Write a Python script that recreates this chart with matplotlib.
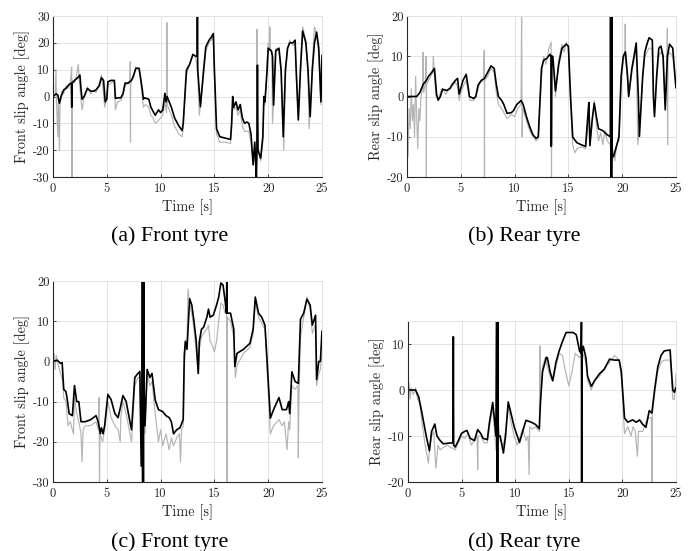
import matplotlib

matplotlib.use("Agg")
import matplotlib.pyplot as plt
from matplotlib.ticker import FuncFormatter, MultipleLocator

a_gray = [(0, 0), (0.2, 1), (0.28, 10), (0.32, -2), (0.45, -15), (0.5, 0), (0.6, -20), (0.65, -3), (0.8, 2), (1.0, 1), (1.2, 4), (1.4, 3), (1.6, 5), (1.74, 11), (1.76, -30), (1.8, 6), (2.0, 5), (2.2, 8), (2.35, 12), (2.45, 6), (2.6, -1), (2.7, -5), (2.9, 0), (3.2, 3.5), (3.5, 1), (3.8, 2.5), (4.0, 1.5), (4.3, 5), (4.5, 8), (4.6, 5), (4.8, -4), (5.0, -0.5), (5.1, 4), (5.4, 5), (5.7, 6), (5.8, -5), (6.0, -2), (6.3, -1.5), (6.5, 0), (6.7, 4), (7.0, 5), (7.15, 6), (7.18, 13), (7.2, -17), (7.22, 6), (7.5, 7), (7.7, 11), (8.0, 10), (8.1, 7), (8.3, 0), (8.4, -4), (8.6, -3), (8.9, -4), (9.1, -7), (9.3, -8), (9.5, -10), (9.8, -9), (10.0, -8), (10.2, -7), (10.4, -2), (10.55, -6), (10.58, 27.5), (10.62, -3), (10.8, -5), (11.0, -7), (11.3, -11), (11.7, -14), (12.0, -15), (12.1, -12), (12.4, 8), (12.7, 12), (13.0, 16), (13.3, 14), (13.45, 8), (13.6, -7), (13.7, -3), (14.0, 8), (14.2, 17), (14.5, 20), (14.7, 21), (14.9, 22), (15.0, 8), (15.2, -14), (15.5, -17), (16.0, -17), (16.5, -17.5), (16.6, -12), (16.7, -2), (16.8, -5), (17.0, -4), (17.2, -7), (17.4, -5), (17.6, -11), (17.8, -13), (18.0, -13), (18.2, -13), (18.4, -17), (18.6, -24), (18.75, -19), (18.9, -30), (18.95, 25), (19.0, -10), (19.1, -20), (19.3, -24), (19.5, -17), (19.6, -2), (19.7, -3), (19.9, 12), (20.0, 20), (20.1, 17), (20.15, 26), (20.2, 18), (20.35, 15), (20.4, -10), (20.5, -3), (20.7, 18), (21.0, 17), (21.2, 9), (21.45, -20), (21.6, 8), (21.8, 18), (22.0, 21), (22.3, 19), (22.5, 20), (22.6, 9), (22.8, -9), (23.0, 12), (23.2, 26), (23.5, 21), (23.7, 8), (23.8, -12), (23.9, -6), (24.1, 12), (24.3, 26), (24.5, 23), (24.7, 16), (24.9, -3), (25.0, 13)]
a_black = [(0, 0), (0.3, 1), (0.45, 0.5), (0.6, -2.5), (0.75, 0), (1.0, 2.5), (1.2, 3), (1.5, 4.5), (1.7, 5), (1.74, -4), (1.78, 5), (2.0, 6), (2.3, 7), (2.5, 8), (2.6, 3), (2.7, -1), (2.9, 0), (3.2, 3), (3.5, 2), (3.8, 2), (4.0, 2.5), (4.3, 4), (4.5, 7), (4.7, 6), (4.85, -2), (5.0, -1), (5.1, 5.5), (5.4, 6), (5.7, 6), (5.8, -0.7), (6.0, -0.5), (6.3, -0.5), (6.5, 1), (6.7, 5), (7.0, 5), (7.3, 6), (7.5, 8), (7.7, 10.5), (8.0, 10.5), (8.1, 8), (8.3, 2.5), (8.4, -1), (8.5, -0.5), (8.9, -1), (9.1, -4), (9.5, -7), (9.8, -5), (10.0, -6), (10.2, -5), (10.4, 1.2), (10.5, -2), (10.6, 0), (10.8, -2), (11.0, -4), (11.3, -8), (11.7, -11), (12.0, -12.7), (12.1, -10), (12.4, 9.8), (12.7, 12), (13.0, 15.6), (13.3, 15), (13.4, 15), (13.42, 30), (13.45, 10), (13.7, -3.8), (14.0, 10), (14.2, 18.5), (14.5, 21), (14.7, 22), (14.9, 23.5), (15.0, 10), (15.2, -12), (15.5, -15), (16.0, -15.5), (16.5, -16), (16.6, -10), (16.7, 0), (16.8, -4), (17.0, -2), (17.2, -5), (17.4, -3), (17.6, -8), (17.8, -10), (18.0, -9.5), (18.2, -10), (18.4, -14), (18.6, -25.5), (18.75, -17), (18.9, -30), (18.95, -22), (19.0, 11.7), (19.05, -20), (19.3, -23), (19.5, -15), (19.6, 0), (19.7, -2), (19.9, 10), (20.0, 18), (20.3, 17), (20.4, 15), (20.5, -3.2), (20.7, 17), (21.0, 18), (21.2, 10), (21.4, -15), (21.6, 10), (21.8, 18), (22.0, 20), (22.3, 20), (22.5, 21), (22.6, 10), (22.8, -8.7), (23.0, 10), (23.2, 24.4), (23.5, 20), (23.7, 10), (23.9, -7.5), (24.1, 10), (24.3, 20), (24.5, 24), (24.7, 18), (24.9, -2), (25.0, 15.3)]

b_gray = [(0, 0), (0.1, -15), (0.2, -3), (0.3, -8), (0.4, 2), (0.5, -6), (0.6, -2), (0.7, -10), (0.8, 5), (0.9, -5), (1.0, -13), (1.1, -3), (1.2, -6), (1.3, 0), (1.45, 2), (1.5, 11), (1.55, 1), (1.7, 3), (1.78, 10), (1.8, -20), (1.82, 3), (2.0, 4), (2.2, 5), (2.4, 6), (2.45, 10), (2.5, 7), (2.7, 0), (2.9, -1), (3.1, 1), (3.3, 2), (3.6, 0.5), (3.9, 2), (4.2, 2.5), (4.5, 3.5), (4.7, 2.5), (4.85, -1), (5.0, 1), (5.3, 3), (5.5, 4), (5.7, 1), (5.85, -1), (6.2, -1), (6.5, 1), (6.8, 3.5), (7.1, 4), (7.18, 11.5), (7.2, -20), (7.22, 4), (7.5, 5), (7.8, 7), (8.1, 6), (8.3, 1), (8.5, -2), (8.8, -3), (9.0, -4), (9.3, -5.5), (9.7, -4.5), (10.0, -5), (10.3, -3), (10.6, -2), (10.65, 20), (10.7, -10), (10.75, -3), (11.1, -6), (11.4, -8.5), (11.7, -10), (12.0, -11), (12.2, -10.5), (12.5, 5), (12.7, 10), (12.9, 8), (13.2, 12), (13.4, 13.5), (13.43, -20), (13.46, 9), (13.6, 8), (13.8, 0), (14.1, 9), (14.4, 13), (14.6, 11), (14.8, 13.5), (15.0, 12), (15.2, -2), (15.4, -12), (15.6, -14), (15.8, -13), (16.2, -12.5), (16.6, -13), (16.8, -8), (16.9, -2), (17.0, -12), (17.2, -7), (17.4, -1), (17.6, -7), (17.8, -11), (18.0, -9), (18.2, -12), (18.4, -8.5), (18.6, -11), (18.9, -12), (19.0, -19), (19.1, -13), (19.3, -16), (19.5, -12), (19.7, -11), (19.9, 3), (20.1, 9), (20.25, 10), (20.28, 18), (20.32, 9), (20.5, 4), (20.6, 0), (20.9, 6), (21.1, 9), (21.3, 12), (21.45, -12), (21.6, -8), (21.9, 4), (22.1, 10), (22.3, 11), (22.5, 12), (22.8, 12), (22.9, 0), (23.0, -4), (23.2, 4), (23.4, 10), (23.6, 11), (23.8, 10), (24.0, -2), (24.15, 9), (24.2, 17), (24.22, -12), (24.25, 10), (24.4, 11), (24.7, 10), (24.9, 6), (25.0, 3)]
b_black = [(0, 0), (0.9, 0), (1.2, 1), (1.5, 3), (1.8, 4), (2.0, 5), (2.3, 6), (2.55, 7), (2.75, 0.5), (2.9, -0.9), (3.1, 0), (3.3, 1.8), (3.7, 1.5), (4.0, 2), (4.2, 3), (4.5, 4), (4.7, 4.5), (4.85, 0.6), (5.0, 2), (5.2, 4), (5.5, 5.5), (5.7, 2), (5.8, 0), (6.2, -0.5), (6.4, 0), (6.6, 2.8), (6.9, 4), (7.2, 4.5), (7.5, 6), (7.8, 7.6), (8.1, 7), (8.3, 3), (8.5, 0), (8.8, -1), (9.0, -2), (9.3, -4.2), (9.7, -4), (9.9, -3.5), (10.2, -2), (10.6, -1), (10.8, -2), (11.1, -5), (11.4, -7.5), (11.7, -9.5), (12.0, -10.4), (12.2, -10), (12.5, 7), (12.7, 9), (13.0, 9.5), (13.3, 10.5), (13.38, 10), (13.4, -12.4), (13.43, -12), (13.46, 10), (13.55, 10), (13.8, 1.4), (14.1, 8), (14.4, 12), (14.8, 13), (15.0, 12.5), (15.2, 0), (15.4, -10.1), (15.8, -11.5), (16.2, -12), (16.6, -12.4), (16.8, -5), (16.9, -1.5), (17.0, -12.2), (17.2, -6), (17.4, -1.7), (17.6, -5), (17.8, -8), (18.2, -8.5), (18.6, -9.5), (18.9, -10), (18.92, 20), (18.95, -20), (18.98, 20), (19.01, -20), (19.04, 20), (19.07, -15), (19.2, -14.9), (19.5, -12), (19.7, -10), (19.9, 5), (20.1, 10), (20.3, 11.1), (20.5, 5), (20.6, 0), (20.9, 7), (21.1, 10), (21.3, 13.3), (21.5, 0), (21.6, -9.9), (21.9, 5), (22.1, 11), (22.3, 13), (22.5, 14.6), (22.8, 14), (22.9, 0), (23.0, -5), (23.2, 5), (23.4, 12), (23.6, 12.5), (23.8, 10), (24.0, -3.3), (24.2, 10), (24.4, 13), (24.7, 12), (24.9, 5), (25.0, 2.2)]

c_gray = [(0, -3), (0.1, 2), (0.2, -2), (0.3, 1.5), (0.5, -1), (0.7, -3), (0.9, -5), (1.0, -9), (1.2, -10), (1.4, -16), (1.6, -15), (1.8, -17), (1.9, -18), (2.0, -9), (2.2, -13), (2.4, -15), (2.6, -18), (2.7, -25), (2.8, -17), (3.0, -16), (3.5, -16), (4.0, -15), (4.2, -17), (4.28, -9), (4.32, -30), (4.36, -18), (4.6, -20), (4.8, -17), (5.1, -10), (5.4, -14), (5.75, -16), (6.05, -17), (6.25, -20), (6.3, -14), (6.5, -10), (6.8, -13), (7.15, -18), (7.3, -20), (7.6, -6), (7.9, -4), (8.07, -4), (8.2, -22), (8.3, -30), (8.45, -8), (8.55, -18), (8.75, -3), (9.0, -6), (9.2, -5), (9.5, -13), (9.8, -20), (10.0, -17), (10.2, -21), (10.5, -18), (10.8, -22), (11.0, -19), (11.2, -21), (11.5, -19), (11.75, -18), (11.85, -25), (11.95, -17), (12.1, -16), (12.2, -2), (12.3, 3), (12.45, 4), (12.55, 18), (12.7, 14), (12.9, 12), (13.1, 8), (13.3, 3), (13.5, -3), (13.6, 3), (13.8, 6), (14.0, 7), (14.3, 8), (14.45, 9), (14.6, 5), (14.8, 4), (15.0, 2.4), (15.2, 5), (15.4, 10), (15.6, 14.5), (15.8, 14), (16.0, 12), (16.13, 12), (16.16, -30), (16.2, 11), (16.5, 10), (16.8, 6), (16.95, -4), (17.1, -1), (17.7, 2), (18.3, 3.5), (18.6, 7), (18.8, 15), (19.1, 11), (19.4, 9.5), (19.7, 8), (19.9, -2), (20.2, -18), (20.5, -16), (21.0, -14.5), (21.3, -16), (21.5, -15), (21.75, -22), (21.9, -15), (22.0, -17), (22.2, -6), (22.5, -7), (22.75, -6), (22.8, -24), (22.85, -10), (23.0, 6), (23.3, 11), (23.6, 16), (23.9, 13), (24.1, 7), (24.4, 9), (24.5, -6), (24.7, -3), (24.85, -2), (25.0, 2)]
c_black = [(0, 0), (0.4, 0.3), (0.7, -0.5), (0.85, -0.3), (1.0, -7), (1.2, -7.5), (1.3, -9), (1.5, -13), (1.8, -13.5), (2.0, -6), (2.2, -10), (2.4, -10), (2.6, -15), (3.0, -15), (3.5, -14.5), (4.0, -13.5), (4.2, -15), (4.4, -18), (4.5, -16.5), (4.65, -18), (4.8, -16), (5.1, -8.2), (5.4, -9.5), (5.75, -13), (6.05, -14), (6.3, -11), (6.5, -8.5), (6.8, -10), (7.15, -15), (7.3, -17), (7.6, -4), (7.9, -3), (8.07, -2.5), (8.2, -26), (8.28, -10), (8.31, 20), (8.34, -30), (8.37, 20), (8.40, -30), (8.43, 20), (8.45, -5), (8.55, -16), (8.75, -2), (9.0, -4), (9.2, -3), (9.5, -9.6), (9.8, -12), (10.2, -12.5), (10.5, -13.5), (10.8, -14), (11.0, -15), (11.2, -18), (11.5, -17), (11.8, -16.5), (12.1, -14.5), (12.2, 1.5), (12.3, 5), (12.45, 3), (12.7, 15.6), (12.9, 14), (13.1, 10), (13.3, 5.3), (13.5, -3), (13.6, 5), (13.8, 8), (14.0, 8.5), (14.3, 11), (14.45, 13), (14.6, 11), (14.9, 11.5), (15.2, 14), (15.4, 16), (15.6, 19.5), (15.8, 19), (16.0, 15), (16.12, 12), (16.15, 20), (16.18, 12), (16.5, 12), (16.8, 8), (16.9, -1.3), (17.1, 2), (17.7, 3), (18.3, 4.5), (18.6, 8), (18.8, 16), (19.1, 12), (19.4, 11), (19.7, 9), (19.9, 0), (20.2, -14.1), (20.5, -12), (21.0, -9), (21.3, -12), (21.7, -12), (21.9, -10), (22.0, -13), (22.2, -2.6), (22.5, -5), (22.8, -5.5), (23.0, 10.5), (23.3, 12), (23.6, 15.5), (23.9, 14), (24.1, 9), (24.4, 11.5), (24.5, -4.5), (24.7, 0), (24.85, 0), (25.0, 7.5)]

d_gray = [(0, -3), (0.1, 1.5), (0.2, -2), (0.3, 0.5), (0.5, -1), (0.7, 0.5), (0.9, -2), (1.1, -3), (1.3, -7), (1.6, -12), (1.9, -15.9), (2.0, -13), (2.2, -10), (2.4, -9), (2.6, -17), (2.8, -12), (3.0, -13), (3.3, -12.5), (3.7, -12), (4.0, -12.5), (4.4, -13), (4.7, -11.5), (5.0, -10), (5.3, -10.5), (5.6, -9.5), (5.9, -12), (6.2, -11), (6.45, -10), (6.5, -17.3), (6.55, -10), (6.8, -10), (7.1, -11.5), (7.4, -11.5), (7.6, -8), (7.9, -4), (8.05, -8), (8.2, -13), (8.3, -5), (8.4, -20), (8.45, -8), (8.6, -11), (8.9, -12), (9.1, -9), (9.35, -3.5), (9.6, -7), (9.9, -10), (10.2, -12), (10.4, -10.5), (10.7, -8.5), (11.0, -11), (11.2, -10), (11.3, -18.4), (11.35, -8), (11.6, -8.5), (11.9, -8), (12.25, -9), (12.3, 9.6), (12.35, -2), (12.55, 5), (12.8, 7), (13.0, 5), (13.25, 3), (13.5, 2), (13.8, 5), (14.1, 8), (14.4, 7.5), (14.7, 4), (15.0, 0.9), (15.3, 4), (15.6, 8), (16.0, 7), (16.3, 8), (16.6, 6), (16.75, 2), (17.1, 0), (17.4, 2), (17.85, 3), (18.3, 4.5), (18.8, 6), (19.25, 7.5), (19.7, 6.5), (19.9, 3), (20.2, -9.5), (20.5, -8), (20.8, -10), (21.0, -8), (21.2, -9), (21.4, -14.4), (21.5, -9), (21.9, -9), (22.2, -7), (22.5, -6), (22.7, -6), (22.75, -20), (22.8, -5), (23.0, -1), (23.3, 4), (23.6, 6), (23.9, 6.5), (24.45, 6.5), (24.55, 4), (24.7, -2), (24.85, -2), (25.0, 3.5)]
d_black = [(0, 0), (0.7, 0), (1.0, -1.5), (1.3, -5), (1.7, -10), (2.0, -13.2), (2.2, -9), (2.5, -7.4), (2.7, -10), (3.0, -11), (3.3, -11.7), (4.0, -11.5), (4.2, -11.5), (4.23, 11.6), (4.26, -12), (4.4, -12.4), (4.7, -11), (5.0, -9.4), (5.3, -9), (5.5, -8.8), (5.8, -10.5), (6.2, -11), (6.5, -8.6), (6.8, -9.5), (7.0, -10.5), (7.4, -10.8), (7.6, -7), (7.9, -2.7), (8.05, -6), (8.2, -10), (8.27, 15), (8.30, -20), (8.33, 15), (8.36, -20), (8.39, 15), (8.42, -10), (8.6, -10), (8.9, -13.7), (9.1, -10), (9.35, -2.6), (9.6, -5), (9.9, -8), (10.4, -11.4), (10.7, -9), (11.0, -6.6), (11.5, -7), (11.9, -7.5), (12.25, -8.4), (12.35, -3), (12.55, 4), (12.9, 7.1), (13.0, 7), (13.25, 4), (13.5, 2), (13.8, 6), (14.1, 8.5), (14.4, 10.5), (14.75, 12.5), (15.4, 12.5), (15.7, 12), (16.0, 8.5), (16.15, 8), (16.18, 15), (16.2, -20), (16.22, 8), (16.35, 9.5), (16.6, 7), (16.75, 3), (17.1, 0.8), (17.4, 2), (17.85, 3.5), (18.3, 4.5), (18.8, 6.7), (19.25, 6.5), (19.7, 6.5), (19.9, 4), (20.2, -6.1), (20.5, -7), (20.95, -6.5), (21.3, -7), (21.6, -6.5), (21.9, -7.5), (22.2, -8.1), (22.5, -4.5), (22.75, -5), (23.0, 0), (23.3, 5), (23.6, 7.5), (23.9, 8.5), (24.45, 8.7), (24.55, 5), (24.7, 0), (24.85, -0.5), (25.0, 0.5)]

ylabels = ["Front slip angle [deg]", "Rear slip angle [deg]", "Front slip angle [deg]", "Rear slip angle [deg]"]
captions = ["(a) Front tyre", "(b) Rear tyre", "(c) Front tyre", "(d) Rear tyre"]
ylims = [(-30, 30), (-20, 20), (-30, 20), (-20, 15)]

plt.rcParams["axes.unicode_minus"] = False
CM = "cmr10"
DARK = "#262626"
GRID = "#e3e3e3"

fig = plt.figure(figsize=(6.92, 5.51), dpi=100)
W, H = 692, 551
# axes boxes in pixels: left, top, right, bottom
boxes = [(53, 16, 322, 177), (407, 16, 676, 177), (53, 281, 322, 482), (408, 321, 676, 482)]
caption_xy = [(170, 241), (524, 241), (170, 547), (524, 547)]

series = [(a_gray, a_black), (b_gray, b_black), (c_gray, c_black), (d_gray, d_black)]

for i, (g, k) in enumerate(series):
    l, t, r, b = boxes[i]
    ax = fig.add_axes([l / W, 1 - b / H, (r - l) / W, (b - t) / H])
    ax.plot([p[0] for p in g], [p[1] for p in g], color="#b4b4b4", lw=0.85)
    ax.plot([p[0] for p in k], [p[1] for p in k], color="black", lw=1.2)
    ax.set_xlim(0, 25)
    ax.set_ylim(*ylims[i])
    ax.xaxis.set_major_locator(MultipleLocator(5))
    ax.yaxis.set_major_locator(MultipleLocator(10))
    fmt = FuncFormatter(lambda v, pos: "%d" % round(v))
    ax.xaxis.set_major_formatter(fmt)
    ax.yaxis.set_major_formatter(fmt)
    ax.grid(True, color=GRID, lw=0.7)
    ax.set_axisbelow(True)
    for s in ("top", "right"):
        ax.spines[s].set_color(GRID)
        ax.spines[s].set_linewidth(0.7)
    for s in ("left", "bottom"):
        ax.spines[s].set_color(DARK)
        ax.spines[s].set_linewidth(0.8)
    ax.tick_params(direction="in", length=2.5, width=0.6, color=DARK, labelcolor=DARK, labelsize=9)
    ax.tick_params(axis="x", pad=4.5)
    ax.tick_params(axis="y", pad=2.5)
    for lab in ax.get_xticklabels() + ax.get_yticklabels():
        lab.set_fontfamily(CM)
    ax.set_xlabel("Time [s]", fontfamily=CM, fontsize=10.3, color=DARK, labelpad=3)
    ax.set_ylabel(ylabels[i], fontfamily=CM, fontsize=10.3, color=DARK, labelpad=2)
    cx, cy = caption_xy[i]
    fig.text(cx / W, 1 - cy / H, captions[i], ha="center", va="baseline", fontsize=15.8, fontfamily="Liberation Serif")

fig.savefig("out.png", dpi=100)
